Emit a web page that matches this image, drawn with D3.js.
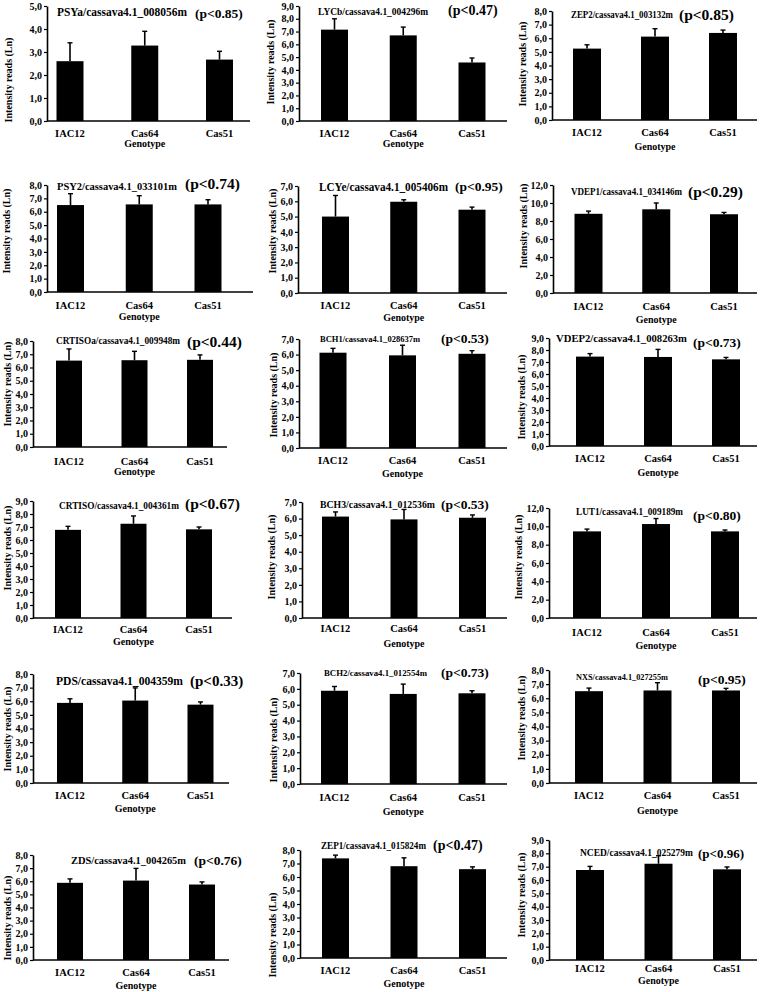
<!DOCTYPE html>
<html>
<head>
<meta charset="utf-8">
<script src="https://cdn.jsdelivr.net/npm/d3@7/dist/d3.min.js"></script>
<style>
  body { margin: 0; background: #fff; }
  svg { display: block; }
  text { font-family: "Liberation Serif", "Times New Roman", serif; font-weight: bold; fill: #000; }
</style>
</head>
<body>
<svg id="fig" width="763" height="992"></svg>
<script>
// data
const genotypes = ["IAC12", "Cas64", "Cas51"];
const genes = [
  "PSYa/cassava4.1_008056m", "LYCb/cassava4.1_004296m", "ZEP2/cassava4.1_003132m",
  "PSY2/cassava4.1_033101m", "LCYe/cassava4.1_005406m", "VDEP1/cassava4.1_034146m",
  "CRTISOa/cassava4.1_009948m", "BCH1/cassava4.1_028637m", "VDEP2/cassava4.1_008263m",
  "CRTISO/cassava4.1_004361m", "BCH3/cassava4.1_012536m", "LUT1/cassava4.1_009189m",
  "PDS/cassava4.1_004359m", "BCH2/cassava4.1_012554m", "NXS/cassava4.1_027255m",
  "ZDS/cassava4.1_004265m", "ZEP1/cassava4.1_015824m", "NCED/cassava4.1_025279m"
];
const pValues = ["(p<0.85)", "(p<0.47)", "(p<0.85)", "(p<0.74)", "(p<0.95)", "(p<0.29)",
  "(p<0.44)", "(p<0.53)", "(p<0.73)", "(p<0.67)", "(p<0.53)", "(p<0.80)",
  "(p<0.33)", "(p<0.73)", "(p<0.95)", "(p<0.76)", "(p<0.47)", "(p<0.96)"];
// mean intensity per genotype
const means = [
  [2.60, 3.28, 2.67], [7.15, 6.70, 4.58], [5.24, 6.12, 6.39],
  [6.50, 6.55, 6.55], [5.00, 5.97, 5.45], [8.80, 9.30, 8.75],
  [6.52, 6.55, 6.58], [6.12, 5.95, 6.05], [7.45, 7.42, 7.22],
  [6.78, 7.25, 6.82], [6.12, 5.95, 6.05], [9.45, 10.25, 9.45],
  [5.88, 6.05, 5.75], [5.88, 5.68, 5.72], [6.50, 6.55, 6.55],
  [5.88, 6.05, 5.75], [7.38, 6.80, 6.58], [6.75, 7.22, 6.80]
];
// top of the error bar
const upper = [
  [3.40, 3.90, 3.03], [8.00, 7.35, 4.93], [5.52, 6.70, 6.60],
  [7.35, 7.20, 6.90], [6.38, 6.10, 5.62], [9.10, 10.00, 8.95],
  [7.40, 7.22, 6.95], [6.40, 6.60, 6.25], [7.70, 8.05, 7.38],
  [7.05, 7.85, 7.00], [6.40, 6.55, 6.22], [9.70, 10.85, 9.60],
  [6.18, 6.98, 5.95], [6.15, 6.30, 5.88], [6.72, 7.10, 6.70],
  [6.18, 6.98, 5.95], [7.62, 7.42, 6.75], [7.02, 7.82, 6.98]
];
const yMax  = [5, 9, 8, 8, 7, 12, 8, 7, 9, 9, 7, 12, 8, 7, 8, 8, 8, 9];
const yStep = [1, 1, 1, 1, 1, 2, 1, 1, 1, 1, 1, 2, 1, 1, 1, 1, 1, 1];
const yTitle = "Intensity reads (Ln)";
const xTitle = "Genotype";

// panel placement (pixels): t = [x, y, size, width] of the gene name, p = [x, y, size] of the p value
const layout = [
  {ax: 47, ex: 250, top: 6, base: 121, c: [70, 219.5], bw: 27, t: [57, 12, 11.5, 130], p: [195, 13, 13.5], lab: [8, 80], cat: 133, gen: 143},
  {ax: 299, ex: 507, top: 6, base: 121, c: [334.5, 472], bw: 27, t: [318, 12, 9.5, 110], p: [448, 10, 14], lab: [270, 62], cat: 133, gen: 143},
  {ax: 552, ex: 757, top: 11, base: 120, c: [587, 723], bw: 28, t: [571, 15, 9.3, 102], p: [679, 15, 15.5], lab: [522, 64], cat: 132, gen: 146},
  {ax: 47, ex: 253, top: 185, base: 292, c: [70.5, 208], bw: 27, t: [57, 186, 10.8, 120], p: [185, 184, 15.5], lab: [6, 231], cat: 305, gen: 316},
  {ax: 298, ex: 507, top: 186, base: 293, c: [335.5, 472], bw: 27, t: [319, 187, 11.5, 129], p: [455, 186, 13.5], lab: [272, 231], cat: 305, gen: 317},
  {ax: 553, ex: 757, top: 185, base: 293, c: [588.5, 724], bw: 28, t: [571, 192, 9.3, 111], p: [688, 192, 15.5], lab: [523, 226], cat: 306, gen: 319},
  {ax: 33, ex: 227, top: 341, base: 447, c: [69, 200], bw: 26, t: [56, 341, 9.5, 124], p: [187, 342, 15.5], lab: [7, 384], cat: 461, gen: 471},
  {ax: 299, ex: 507, top: 339, base: 448, c: [333, 472], bw: 27, t: [320, 339, 9, 100], p: [441, 338, 13.5], lab: [273, 395], cat: 460, gen: 473},
  {ax: 549, ex: 757, top: 338, base: 446, c: [590, 726], bw: 28, t: [556, 339, 9.5, 131], p: [693, 342, 13.5], lab: [521, 397], cat: 458, gen: 472},
  {ax: 33, ex: 232, top: 501, base: 618, c: [68, 199], bw: 26, t: [59, 506, 9.5, 120], p: [185, 504, 15.5], lab: [7, 548], cat: 629, gen: 641},
  {ax: 302, ex: 507, top: 502, base: 618, c: [335.5, 472.5], bw: 27, t: [320, 504, 10, 115], p: [441, 504, 13.5], lab: [271, 557], cat: 628, gen: 643},
  {ax: 549, ex: 757, top: 508, base: 618, c: [587, 725], bw: 28, t: [576, 512, 9.4, 107], p: [693, 515, 13.5], lab: [518, 557], cat: 632, gen: 645},
  {ax: 33, ex: 229, top: 674, base: 783, c: [70, 200.5], bw: 26, t: [56, 681, 11.5, 127], p: [190, 681, 15], lab: [7, 729], cat: 795, gen: 808},
  {ax: 300, ex: 507, top: 673, base: 784, c: [334.5, 472], bw: 27, t: [324, 673, 9, 103], p: [441, 672, 13.5], lab: [273, 740], cat: 797, gen: 811},
  {ax: 549, ex: 757, top: 670, base: 783, c: [589, 726], bw: 28, t: [576, 677, 9, 92], p: [698, 679, 13.5], lab: [521, 718], cat: 795, gen: 810},
  {ax: 33, ex: 229, top: 855, base: 960, c: [70, 202], bw: 26, t: [71, 860, 10.6, 115], p: [194, 860, 13.5], lab: [7, 918], cat: 972, gen: 985},
  {ax: 300, ex: 507, top: 850, base: 958, c: [335.5, 472.5], bw: 27, t: [321, 846, 9.3, 105], p: [433, 845, 14], lab: [272, 935], cat: 970, gen: 983},
  {ax: 549, ex: 757, top: 840, base: 960, c: [590, 727], bw: 28, t: [580, 853, 9.7, 113], p: [698, 853, 13], lab: [521, 895], cat: 968, gen: 980}
];

const svg = d3.select("#fig");
const fmt = d => d3.format(".1f")(d).replace(".", ",");

genes.forEach(function (gene, i) {
  const L = layout[i];
  const g = svg.append("g").attr("class", "panel");

  const y = d3.scaleLinear().domain([0, yMax[i]]).range([L.base, L.top]);
  const x = d3.scalePoint().domain(genotypes).range(L.c);

  // y axis
  const ticks = d3.range(0, yMax[i] + 0.001, yStep[i]);
  const yAxis = g.append("g")
    .attr("transform", "translate(" + L.ax + ",0)")
    .call(d3.axisLeft(y).tickValues(ticks).tickFormat(fmt).tickSize(3).tickSizeOuter(0).tickPadding(2));
  yAxis.select(".domain").attr("stroke", "#000").attr("stroke-width", 1.6);
  yAxis.selectAll(".tick line").attr("stroke", "#000").attr("stroke-width", 1.2);
  yAxis.selectAll(".tick text")
    .attr("font-size", 10)
    .style("font-family", "'Liberation Serif', serif")
    .style("font-weight", "bold");

  // bars
  g.selectAll("rect.bar")
    .data(genotypes)
    .enter()
    .append("rect")
    .attr("class", "bar")
    .attr("x", d => x(d) - L.bw / 2)
    .attr("y", (d, j) => y(means[i][j]))
    .attr("width", L.bw)
    .attr("height", (d, j) => y(0) - y(means[i][j]))
    .attr("fill", "#000");

  // error bars (upper half only)
  g.selectAll("line.err")
    .data(genotypes)
    .enter()
    .append("line")
    .attr("class", "err")
    .attr("x1", d => x(d)).attr("x2", d => x(d))
    .attr("y1", (d, j) => y(means[i][j]))
    .attr("y2", (d, j) => y(upper[i][j]))
    .attr("stroke", "#000").attr("stroke-width", 1.6);
  g.selectAll("line.cap")
    .data(genotypes)
    .enter()
    .append("line")
    .attr("class", "cap")
    .attr("x1", d => x(d) - 2.5).attr("x2", d => x(d) + 2.5)
    .attr("y1", (d, j) => y(upper[i][j]))
    .attr("y2", (d, j) => y(upper[i][j]))
    .attr("stroke", "#000").attr("stroke-width", 1.4);

  // x axis line
  g.append("line")
    .attr("x1", L.ax).attr("x2", L.ex)
    .attr("y1", y(0)).attr("y2", y(0))
    .attr("stroke", "#000").attr("stroke-width", 1.6);

  // category labels
  g.selectAll("text.cat")
    .data(genotypes)
    .enter()
    .append("text")
    .attr("class", "cat")
    .attr("x", d => x(d))
    .attr("y", L.cat)
    .attr("dy", "0.35em")
    .attr("text-anchor", "middle")
    .attr("font-size", 10.5)
    .text(d => d);

  g.append("text")
    .attr("x", x("Cas64"))
    .attr("y", L.gen)
    .attr("dy", "0.35em")
    .attr("text-anchor", "middle")
    .attr("font-size", 10)
    .text(xTitle);

  // y title
  g.append("text")
    .attr("transform", "translate(" + L.lab[0] + "," + L.lab[1] + ") rotate(-90)")
    .attr("dy", "0.35em")
    .attr("text-anchor", "middle")
    .attr("font-size", 10)
    .text(yTitle);

  // gene title and p value
  g.append("text")
    .attr("x", L.t[0]).attr("y", L.t[1])
    .attr("dy", "0.35em")
    .attr("font-size", L.t[2])
    .attr("textLength", L.t[3])
    .attr("lengthAdjust", "spacingAndGlyphs")
    .text(gene);
  g.append("text")
    .attr("x", L.p[0]).attr("y", L.p[1])
    .attr("dy", "0.35em")
    .attr("font-size", L.p[2])
    .text(pValues[i]);
});
</script>
</body>
</html>
